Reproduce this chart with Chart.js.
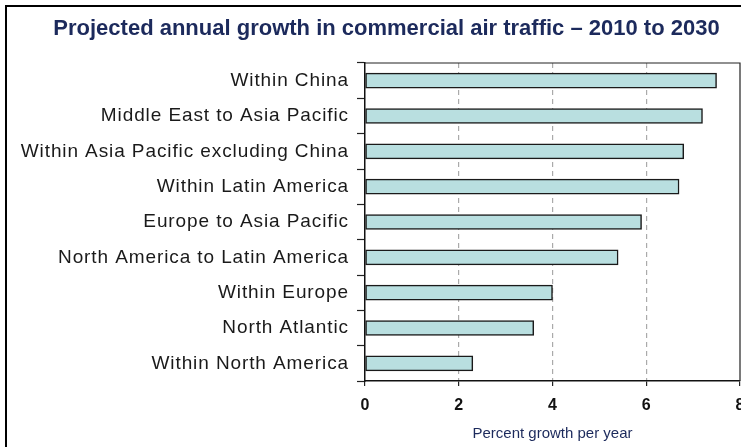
<!DOCTYPE html>
<html>
<head>
<meta charset="utf-8">
<script src="https://cdn.jsdelivr.net/npm/chart.js@4"></script>
<style>
  html, body { margin: 0; padding: 0; background: #fff; }
  #wrap { width: 741px; height: 447px; }
</style>
</head>
<body>
<div id="wrap"><canvas id="myChart" width="741" height="447"></canvas></div>
<script>
// data
const categories = [
    "Within China",
    "Middle East to Asia Pacific",
    "Within Asia Pacific excluding China",
    "Within Latin America",
    "Europe to Asia Pacific",
    "North America to Latin America",
    "Within Europe",
    "North Atlantic",
    "Within North America"
];
const growth = [7.5, 7.2, 6.8, 6.7, 5.9, 5.4, 4.0, 3.6, 2.3];
const xTicks = [0, 2, 4, 6, 8];

const navy = "#1c2a5c";

// outer frame + box round the plot area
const framePlugin = {
    id: "frame",
    afterDraw(chart) {
        const ctx = chart.ctx;
        const a = chart.chartArea;
        ctx.save();
        ctx.strokeStyle = "#000";
        ctx.lineWidth = 2;
        ctx.beginPath();
        ctx.moveTo(6, 460);
        ctx.lineTo(6, 6);
        ctx.lineTo(760, 6);
        ctx.stroke();
        ctx.lineWidth = 1.2;
        ctx.strokeStyle = "#222";
        ctx.beginPath();
        ctx.moveTo(a.left, a.top);
        ctx.lineTo(a.right, a.top);
        ctx.lineTo(a.right, a.bottom);
        ctx.stroke();
        ctx.restore();
    }
};

function init() {
    const canvas = document.getElementById("myChart");

    new Chart(canvas, {
        type: "bar",
        data: {
            labels: categories,
            datasets: [{
                data: growth,
                backgroundColor: "#b9dfe0",
                borderColor: "#1a1a1a",
                borderWidth: 1.5,
                borderSkipped: false,
                barThickness: 15
            }]
        },
        options: {
            indexAxis: "y",
            responsive: false,
            animation: false,
            layout: { padding: { left: 33, right: 1, top: 0, bottom: 0 } },
            plugins: {
                legend: { display: false },
                tooltip: { enabled: false },
                title: {
                    display: true,
                    text: "Projected annual growth in commercial air traffic \u2013 2010 to 2030",
                    color: navy,
                    font: { family: "'Liberation Sans Narrow', 'Arial Narrow', 'Liberation Sans', sans-serif", size: 22, weight: "bold" },
                    padding: { top: 16, bottom: 20.6 }
                }
            },
            scales: {
                y: {
                    afterFit(scale) {
                        scale.width = 332;
                        // wider letter spacing on the category labels, like the original
                        if (!scale._spaced) {
                            const orig = scale.drawLabels.bind(scale);
                            scale._computeLabelArea = () => undefined; // no clipping to the axis box
                            scale.drawLabels = area => {
                                scale.ctx.save();
                                scale.ctx.letterSpacing = "0.9px";
                                orig(area);
                                scale.ctx.restore();
                            };
                            scale._spaced = true;
                        }
                    },
                    grid: {
                        offset: true,
                        drawOnChartArea: false,
                        drawTicks: true,
                        tickLength: 8,
                        tickColor: "#222",
                        tickWidth: 1.2
                    },
                    border: { display: true, color: "#111", width: 1.5 },
                    ticks: {
                        color: "#1a1a1a",
                        padding: 8,
                        font: { family: "'Liberation Sans', Arial, sans-serif", size: 19 }
                    }
                },
                x: {
                    min: 0,
                    max: 8,
                    afterFit(scale) {
                        scale.height = 66;
                        scale.paddingRight = 0;
                        scale.paddingLeft = 0;
                    },
                    afterBuildTicks(scale) { scale.ticks = xTicks.map(v => ({ value: v })); },
                    grid: {
                        color: ctx => (ctx.tick && (ctx.tick.value === 0 || ctx.tick.value === 8)) ? "rgba(0,0,0,0)" : "#aaaaaa",
                        lineWidth: 1.2,
                        tickLength: 5,
                        tickColor: "#222",
                        tickWidth: 1.2,
                        tickBorderDash: []
                    },
                    border: { display: true, color: "#111", width: 1.5, dash: [5, 4] },
                    ticks: {
                        color: "#111",
                        padding: 10,
                        maxRotation: 0,
                        font: { family: "'Liberation Sans', Arial, sans-serif", size: 16, weight: "bold" }
                    },
                    title: {
                        display: true,
                        text: "Percent growth per year",
                        color: navy,
                        padding: { top: 0, bottom: 4 },
                        font: { family: "'Liberation Sans Narrow', 'Arial Narrow', 'Liberation Sans', sans-serif", size: 15 }
                    }
                }
            }
        },
        plugins: [framePlugin]
    });
}

document.addEventListener("DOMContentLoaded", init);
</script>
</body>
</html>
